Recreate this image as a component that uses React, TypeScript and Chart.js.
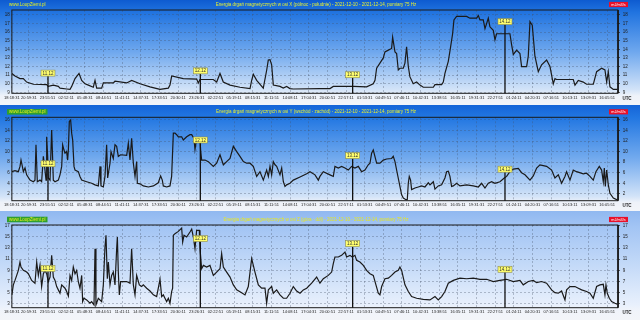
import { useEffect, useRef } from "react";
import { Chart, registerables } from "chart.js";
Chart.register(...registerables);

// time axis: hours since 2021-12-10 18:18:31 UTC
const START = "18:18:31";
const X_MAX_HOURS = 95.45;
const tickLabels = [
  "18:18:31", "20:59:31", "23:55:51", "02:52:11", "05:48:31", "08:44:51", "11:41:11", "14:37:31",
  "17:33:51", "20:30:11", "23:26:31", "02:22:51", "05:19:11", "08:15:31", "11:11:51", "14:08:11",
  "17:04:31", "20:00:51", "22:57:11", "01:53:31", "04:49:51", "07:46:11", "10:42:31", "13:38:51",
  "16:35:11", "19:31:31", "22:27:51", "01:24:11", "04:20:31", "07:16:51", "10:13:11", "13:09:31",
  "16:05:51",
];
const dayLabels = ["11.12", "12.12", "13.12", "14.12"];

const titles = [
  "Energia drgań magnetycznych w osi X (północ - południe) - 2021-12-10 - 2021-12-14, pomiary 75 Hz",
  "Energia drgań magnetycznych w osi Y (wschód - zachód) - 2021-12-10 - 2021-12-14, pomiary 75 Hz",
  "Energia drgań magnetycznych w osi Z (góra - dół) - 2021-12-10 - 2021-12-14, pomiary 75 Hz",
];
const siteLabel = "www.LoopZiemi.pl";
const unitLabel = "mJ/m3/s";

// [hours since start, value]
const northSouth: [number, number][] = [
  [0, 11.2], [0.49, 10.9], [1.28, 10.6], [1.8, 10.6], [2.33, 10.2], [3.38, 9.95], [5.48, 9.9], [5.74, 9.7],
  [6.53, 9.85], [7.32, 9.7], [7.58, 9.5], [8.63, 9.4], [9.16, 9.35], [9.42, 9.7], [9.95, 10.6], [10.58, 11.2],
  [11.0, 10.4], [11.52, 10.0], [12.05, 9.85], [12.83, 9.6], [13.1, 10.4], [13.36, 9.5], [14.15, 9.5], [14.41, 10.1],
  [15.98, 10.1], [16.25, 10.3], [18.09, 10.1], [18.88, 10.4], [20.19, 10.0], [21.76, 9.65], [23.34, 9.35], [24.65, 9.5],
  [24.91, 9.85], [25.18, 10.9], [27.0, 10.6], [29.12, 10.55], [29.37, 10.1], [29.64, 10.5], [31.73, 10.5], [32.27, 10.2],
  [32.79, 11.2], [33.31, 10.2], [34.37, 9.85], [35.94, 9.6], [37.52, 9.45], [37.78, 10.4], [38.04, 11.1], [38.57, 10.4],
  [39.61, 9.5], [40.15, 11.6], [40.4, 12.75], [40.67, 12.8], [40.93, 12.2], [41.19, 9.85], [42.24, 9.7], [42.76, 9.5],
  [43.29, 9.7], [43.81, 9.45], [44.34, 9.4], [48.54, 9.45], [50.12, 9.45], [50.64, 9.7], [53.79, 9.7], [55.89, 9.65],
  [56.94, 10.0], [57.21, 10.4], [57.47, 11.8], [57.99, 12.4], [58.52, 13.0], [58.78, 13.7], [59.31, 13.9], [59.83, 14.1],
  [59.99, 15.4], [60.36, 13.7], [60.62, 13.5], [60.88, 11.6], [61.14, 11.8], [61.67, 11.8], [61.93, 12.4], [62.19, 14.3],
  [62.46, 12.0], [62.72, 10.8], [63.24, 10.0], [63.77, 10.2], [64.3, 9.85], [64.82, 9.6], [66.4, 9.6], [66.66, 9.9],
  [67.71, 9.9], [67.97, 10.2], [68.23, 11.2], [68.76, 12.6], [69.13, 14.3], [69.44, 15.8], [69.65, 17.4], [70.07, 17.8],
  [71.65, 17.8], [72.17, 17.6], [73.22, 17.6], [73.49, 17.9], [73.75, 17.4], [74.27, 17.4], [74.54, 16.4], [75.06, 17.6],
  [75.32, 16.6], [75.85, 16.2], [76.11, 15.1], [76.37, 15.8], [78.47, 15.8], [78.74, 14.5], [79.0, 13.4], [79.53, 13.9],
  [80.05, 13.5], [80.31, 12.0], [81.1, 12.0], [81.36, 13.2], [81.63, 17.2], [81.99, 16.8], [82.41, 13.2], [82.94, 11.4],
  [83.46, 12.2], [84.25, 12.75], [84.78, 12.0], [85.3, 10.0], [85.57, 10.6], [85.83, 10.5], [88.45, 10.5], [88.72, 9.85],
  [89.24, 10.4], [90.03, 10.2], [90.55, 9.95], [91.61, 9.95], [92.13, 11.4], [92.92, 11.8], [93.44, 11.6], [93.71, 10.2],
  [93.97, 11.4], [94.23, 9.65], [94.76, 9.35], [95.45, 9.35],
];

const eastWest: [number, number][] = [
  [0, 6.2], [0.49, 6.4], [1.02, 6.2], [1.28, 7.2], [1.44, 8.4], [1.65, 7.2], [1.81, 6.2], [2.07, 6.9], [2.33, 5.6],
  [2.86, 4.6], [3.38, 4.3], [3.64, 4.6], [3.8, 11.3], [4.01, 4.3], [4.43, 4.6], [4.69, 4.3], [4.96, 9.1], [5.22, 6.5],
  [5.38, 4.6], [5.48, 12.8], [5.64, 9.1], [5.74, 5.0], [6.01, 4.6], [6.27, 14.1], [6.43, 8.4], [6.53, 4.6], [6.8, 4.3],
  [7.32, 4.6], [7.58, 5.6], [7.85, 7.2], [8.0, 11.3], [8.21, 10.3], [8.37, 9.7], [8.63, 10.0], [8.79, 8.4], [8.9, 10.3],
  [9.05, 15.7], [9.26, 16.0], [9.42, 13.5], [9.58, 12.2], [9.79, 7.2], [9.95, 6.5], [10.47, 6.2], [10.73, 5.3], [11.0, 4.6],
  [11.78, 4.3], [12.57, 4.0], [13.1, 3.7], [13.62, 3.5], [13.89, 7.2], [14.04, 3.5], [14.41, 3.3], [14.67, 5.3], [14.93, 11.3],
  [15.09, 5.0], [15.46, 7.8], [15.62, 10.0], [15.98, 8.7], [16.25, 11.3], [16.51, 11.0], [16.77, 9.1], [17.14, 9.4], [18.09, 9.3],
  [18.35, 11.6], [18.61, 8.4], [18.87, 12.5], [19.14, 7.8], [19.4, 5.3], [19.66, 8.1], [19.77, 4.0], [20.19, 3.9], [20.71, 3.5],
  [21.5, 3.3], [22.29, 3.5], [23.07, 4.1], [23.44, 5.4], [23.7, 4.6], [23.86, 3.5], [24.39, 3.3], [24.91, 3.5], [25.17, 5.3],
  [25.44, 13.5], [25.7, 13.5], [25.96, 13.2], [26.23, 12.8], [26.75, 12.8], [27.01, 12.2], [27.54, 12.8], [28.06, 13.2], [28.33, 13.2],
  [28.69, 12.5], [28.85, 10.4], [29.11, 12.5], [29.64, 12.5], [29.74, 10.3], [29.9, 8.4], [30.43, 8.4], [30.95, 8.1], [31.74, 7.2],
  [32.26, 7.8], [32.79, 9.4], [33.32, 7.5], [33.84, 8.1], [34.37, 8.7], [34.89, 11.0], [35.42, 10.0], [35.94, 9.1], [36.47, 8.1],
  [36.99, 7.8], [37.52, 7.8], [38.04, 7.2], [38.57, 5.3], [39.09, 6.2], [39.62, 4.6], [40.14, 6.5], [40.41, 5.3], [40.67, 7.2],
  [40.93, 5.6], [41.19, 8.1], [41.46, 7.5], [41.72, 7.2], [42.24, 5.6], [42.51, 6.9], [42.77, 4.3], [43.03, 3.4], [43.29, 3.7],
  [43.82, 4.0], [44.34, 4.6], [45.4, 5.2], [46.45, 5.8], [46.97, 6.2], [47.76, 5.6], [48.28, 4.6], [48.54, 5.3],
  [49.07, 6.2], [50.12, 5.6], [50.64, 5.3], [50.9, 7.2], [51.43, 6.9], [51.95, 7.2], [52.48, 6.9], [53.0, 6.5], [53.53, 7.2],
  [54.05, 6.9], [54.58, 7.2], [55.1, 6.2], [55.63, 6.5], [56.15, 7.5], [56.42, 7.8], [56.68, 9.7], [56.94, 10.3], [57.2, 9.1],
  [57.47, 7.8], [57.99, 7.8], [58.52, 8.4], [59.04, 8.6], [59.83, 8.7], [60.09, 9.1], [60.36, 8.1], [60.72, 5.9], [61.14, 3.4],
  [61.41, 1.8], [61.67, 1.2], [62.09, 0.9], [62.3, 0.9], [62.46, 4.0], [62.61, 5.3], [62.82, 4.6], [62.98, 2.8], [63.51, 3.1],
  [64.03, 3.3], [64.56, 3.5], [65.08, 3.3], [65.61, 4.1], [65.87, 3.7], [66.4, 4.3], [66.66, 2.9], [67.18, 3.5], [67.71, 3.7],
  [68.23, 5.0], [68.5, 6.2], [68.76, 6.3], [69.02, 5.3], [69.28, 3.4], [69.55, 3.5], [70.07, 4.0], [70.6, 3.5], [71.65, 3.7],
  [72.7, 3.5], [73.49, 3.3], [74.01, 4.0], [74.54, 3.1], [75.06, 4.0], [75.59, 4.3], [76.11, 4.0], [76.9, 4.3], [77.58, 5.0],
  [77.95, 5.3], [78.47, 6.2], [79.0, 6.7], [79.79, 6.8], [80.31, 6.0], [80.84, 5.6], [81.63, 4.6], [82.15, 5.4], [82.68, 6.9],
  [83.2, 7.5], [84.25, 7.2], [85.04, 6.5], [85.56, 5.0], [86.09, 5.6], [86.61, 4.0], [87.14, 5.3], [87.4, 6.2], [87.93, 4.6],
  [88.45, 6.5], [88.98, 6.2], [90.03, 5.8], [90.55, 5.9], [91.08, 5.3], [91.6, 4.6], [92.02, 6.2], [92.55, 7.2], [92.92, 6.5],
  [93.18, 4.3], [93.34, 6.9], [93.5, 3.4], [93.71, 6.5], [93.97, 3.7], [94.23, 2.1], [94.76, 1.2], [95.28, 0.9], [95.45, 0.9],
];

const upDown: [number, number][] = [
  [0, 4.6], [0.23, 6.4], [0.49, 7.2], [0.76, 8.1], [1.02, 9.0], [1.28, 10.5], [1.44, 9.6], [1.81, 9.0], [2.33, 8.7],
  [2.59, 8.4], [3.12, 7.2], [3.64, 6.7], [3.91, 10.5], [4.17, 8.1], [4.43, 9.9], [4.69, 6.1], [4.96, 8.4], [5.22, 9.0],
  [5.48, 8.4], [5.74, 7.0], [6.01, 7.8], [6.27, 11.7], [6.53, 7.8], [6.8, 7.2], [7.06, 6.1], [7.32, 5.5], [7.58, 4.9],
  [7.85, 6.4], [8.37, 5.8], [8.63, 5.2], [8.9, 4.4], [9.16, 8.1], [9.42, 7.2], [9.68, 9.6], [9.95, 8.4], [10.21, 9.0],
  [10.47, 7.0], [10.73, 5.8], [11.0, 8.1], [11.15, 3.4], [11.36, 4.0], [11.78, 3.7], [12.31, 3.1], [12.57, 3.4], [12.94, 2.8],
  [13.1, 12.9], [13.25, 2.8], [13.62, 4.0], [14.15, 3.4], [14.41, 6.4], [14.67, 13.2], [14.83, 15.3], [15.04, 7.5], [15.2, 10.5],
  [15.46, 6.4], [15.72, 8.1], [15.98, 8.7], [16.25, 6.4], [16.51, 12.9], [16.62, 15.0], [16.77, 8.7], [16.93, 4.6], [17.14, 7.0],
  [18.09, 7.0], [18.61, 6.7], [18.87, 12.9], [19.14, 6.4], [19.4, 4.6], [19.66, 8.1], [20.08, 6.4], [20.45, 6.1], [20.71, 6.4],
  [21.24, 5.8], [21.76, 5.3], [22.29, 4.6], [22.81, 4.3], [23.34, 7.4], [23.6, 4.3], [23.86, 4.6], [24.12, 4.0], [24.39, 3.4],
  [24.65, 4.0], [24.91, 3.1], [25.17, 5.2], [25.33, 5.8], [25.44, 15.3], [25.7, 15.6], [26.23, 16.0], [26.75, 16.6], [26.91, 14.1],
  [27.12, 15.3], [27.54, 15.0], [28.06, 15.9], [28.33, 16.4], [28.59, 15.0], [28.85, 12.9], [29.11, 16.2], [29.53, 16.2], [29.64, 12.9],
  [29.9, 9.3], [30.17, 9.9], [30.69, 9.6], [31.21, 9.9], [31.74, 8.1], [32.26, 8.7], [32.79, 9.3], [33.05, 12.0], [33.32, 9.6],
  [33.84, 8.7], [34.37, 7.8], [34.89, 6.4], [35.42, 5.5], [36.2, 5.0], [36.73, 4.6], [37.25, 6.1], [37.78, 11.1], [38.3, 8.7],
  [38.83, 6.4], [39.35, 5.8], [39.88, 5.8], [40.14, 3.1], [40.41, 5.5], [40.93, 6.1], [41.19, 4.9], [41.72, 5.5], [42.24, 4.6],
  [42.77, 4.0], [43.29, 4.0], [43.82, 4.9], [44.34, 6.1], [44.87, 5.3], [45.4, 4.9], [45.92, 5.5], [46.45, 5.8], [47.23, 6.7],
  [48.02, 7.8], [48.54, 6.7], [49.07, 7.5], [49.85, 8.1], [50.38, 8.7], [50.64, 10.2], [50.9, 11.4], [51.43, 11.4], [51.95, 11.7],
  [52.48, 12.3], [52.74, 11.4], [53.27, 11.7], [53.63, 11.4], [54.05, 11.7], [54.32, 10.8], [54.84, 10.5], [55.37, 9.9], [55.89, 9.0],
  [56.42, 8.4], [56.94, 8.1], [57.36, 6.4], [57.73, 4.9], [57.99, 4.6], [58.26, 6.1], [58.78, 7.5], [59.31, 7.6], [59.83, 8.1],
  [60.36, 8.7], [60.88, 9.0], [61.14, 9.6], [61.41, 9.0], [61.93, 6.4], [62.46, 5.2], [62.98, 4.3], [63.77, 4.0], [64.82, 3.8],
  [65.87, 3.7], [66.66, 4.3], [67.18, 3.7], [67.71, 4.3], [68.23, 5.2], [68.76, 6.7], [69.55, 7.2], [70.6, 7.6], [71.65, 7.5],
  [72.7, 7.6], [73.75, 7.4], [74.8, 7.4], [75.85, 7.0], [76.9, 7.2], [77.95, 7.4], [79.0, 7.0], [80.05, 7.2], [80.57, 6.4],
  [81.36, 7.0], [82.15, 7.2], [82.68, 6.8], [83.46, 7.0], [84.25, 6.7], [85.04, 5.5], [85.56, 5.0], [86.09, 4.9], [86.61, 5.3],
  [87.14, 3.7], [87.4, 5.5], [87.93, 6.1], [88.72, 6.1], [89.24, 5.8], [89.77, 5.5], [90.55, 5.2], [91.08, 4.9], [91.6, 4.0],
  [92.13, 6.1], [92.65, 6.4], [93.18, 6.5], [93.44, 4.6], [93.6, 6.4], [93.81, 4.9], [94.13, 4.0], [94.49, 3.4], [95.02, 3.1],
  [95.45, 2.9],
];

// value height of the date label boxes in each panel
const markerNorthSouth = [11.24, 11.5, 11.05, 17.2];
const markerEastWest = [7.7, 12.2, 9.25, 6.67];
const markerUpDown = [9.35, 14.7, 13.8, 9.2];

const ticksNorthSouth = [9, 10, 11, 12, 13, 14, 15, 16, 17, 18];
const ticksEastWest = [2, 4, 6, 8, 10, 12, 14, 16];
const ticksUpDown = [3, 4, 5, 6, 7, 8, 9, 10, 11, 12, 13, 14, 15, 16, 17];

function toSec(s: string) {
  const [h, m, x] = s.split(":").map(Number);
  return h * 3600 + m * 60 + x;
}
const tickHours = (() => {
  let day = 0;
  let prev = -1;
  return tickLabels.map((l) => {
    const t = toSec(l);
    if (t < prev) day++;
    prev = t;
    return (day * 86400 + t - toSec(START)) / 3600;
  });
})();
const dayHours = dayLabels.map((_, i) => (86400 - toSec(START)) / 3600 + i * 24);

type PanelProps = {
  top: number;
  height: number;
  plotTop: number;
  plotBottom: number;
  data: [number, number][];
  yMin: number;
  yMax: number;
  yTicks: number[];
  markers: number[];
  title: string;
  background: string;
  siteBox: boolean;
  titleColor: string;
};

const FONT = "'Liberation Sans', Arial, sans-serif";

function Panel(p: PanelProps) {
  const ref = useRef<HTMLCanvasElement>(null);
  useEffect(() => {
    const canvas = ref.current!;
    const decor = {
      id: "decor",
      afterDraw(chart: any) {
        const ctx = chart.ctx;
        const a = chart.chartArea;
        const xs = chart.scales.x;
        const ys = chart.scales.y;
        ctx.save();
        // frame
        ctx.strokeStyle = "#1a1a1a";
        ctx.lineWidth = 1;
        ctx.strokeRect(a.left, a.top, a.right - a.left, a.bottom - a.top);
        ctx.lineWidth = 1.5;
        ctx.beginPath();
        ctx.moveTo(a.right + 0.5, a.top);
        ctx.lineTo(a.right + 0.5, a.bottom);
        ctx.stroke();
        // day markers
        dayLabels.forEach((lab, i) => {
          const x = xs.getPixelForValue(dayHours[i]);
          const y = ys.getPixelForValue(p.markers[i]);
          ctx.strokeStyle = "#111";
          ctx.lineWidth = 1.3;
          ctx.beginPath();
          ctx.moveTo(x, y + 3);
          ctx.lineTo(x, a.bottom);
          ctx.stroke();
          ctx.fillStyle = "#ffff6e";
          ctx.fillRect(x - 7, y - 3, 14, 6);
          ctx.strokeStyle = "#8a8a50";
          ctx.lineWidth = 0.6;
          ctx.strokeRect(x - 7, y - 3, 14, 6);
          ctx.fillStyle = "#333";
          ctx.font = `4.5px ${FONT}`;
          ctx.textAlign = "center";
          ctx.textBaseline = "middle";
          ctx.fillText(lab, x, y + 0.3);
        });
        // header
        const hy = a.top - 5.5;
        ctx.font = `4.5px ${FONT}`;
        ctx.textBaseline = "middle";
        ctx.textAlign = "left";
        if (p.siteBox) {
          const w = ctx.measureText(siteLabel).width;
          ctx.fillStyle = "#2f9e2f";
          ctx.fillRect(7, hy - 2.8, w + 4, 5.6);
        }
        ctx.fillStyle = "#e6f020";
        ctx.fillText(siteLabel, 9, hy);
        ctx.fillStyle = p.titleColor;
        ctx.textAlign = "center";
        ctx.fillText(p.title, 316, hy);
        ctx.fillStyle = "#e8102a";
        ctx.fillRect(609, hy - 2.6, 19, 5.2);
        ctx.fillStyle = "#ffffff";
        ctx.font = `3.8px ${FONT}`;
        ctx.fillText(unitLabel, 618.5, hy);
        // UTC
        ctx.fillStyle = "#222";
        ctx.font = `bold 4.5px ${FONT}`;
        ctx.fillText("UTC", 627, a.bottom + 5.5);
        ctx.restore();
      },
    };
    const gridCommon = {
      color: "rgba(70,80,100,0.55)",
      lineWidth: 0.6,
      drawTicks: false,
    };
    const chart = new Chart(canvas, {
      type: "line",
      data: {
        datasets: [
          {
            data: p.data.map(([x, y]) => ({ x, y })),
            borderColor: "#1a1a1a",
            borderWidth: 1.2,
            pointRadius: 0,
            tension: 0,
            yAxisID: "y",
          },
        ],
      },
      options: {
        animation: false,
        responsive: false,
        devicePixelRatio: 1,
        layout: { padding: { top: p.plotTop, left: 0, right: 0, bottom: 0 } },
        plugins: { legend: { display: false }, tooltip: { enabled: false } },
        scales: {
          x: {
            type: "linear",
            min: 0,
            max: X_MAX_HOURS,
            afterBuildTicks: (s: any) => {
              s.ticks = tickHours.map((v) => ({ value: v }));
            },
            afterFit: (s: any) => {
              s.height = p.height - p.plotBottom;
            },
            ticks: {
              autoSkip: false,
              maxRotation: 0,
              padding: 2,
              color: "#222",
              font: { size: 4, family: FONT },
              callback: (_v: any, i: number) => tickLabels[i],
            },
            grid: { ...gridCommon },
            border: { display: false, dash: [2, 2] },
          },
          y: {
            type: "linear",
            position: "left",
            min: p.yMin,
            max: p.yMax,
            afterBuildTicks: (s: any) => {
              s.ticks = p.yTicks.map((v) => ({ value: v }));
            },
            afterFit: (s: any) => {
              s.width = 11.87;
            },
            ticks: { padding: 2, color: "#222", font: { size: 4.5, family: FONT } },
            grid: { ...gridCommon },
            border: { display: false, dash: [2, 2] },
          },
          y2: {
            type: "linear",
            position: "right",
            min: p.yMin,
            max: p.yMax,
            afterBuildTicks: (s: any) => {
              s.ticks = p.yTicks.map((v) => ({ value: v }));
            },
            afterFit: (s: any) => {
              s.width = 640 - 617.7;
            },
            ticks: { padding: 3, color: "#222", font: { size: 4.5, family: FONT } },
            grid: { drawOnChartArea: false, drawTicks: true, tickLength: 2, color: "#222" },
            border: { display: false },
          },
        },
      },
      plugins: [decor],
    } as any);
    return () => chart.destroy();
  }, []);
  return (
    <div
      style={{
        position: "absolute",
        left: 0,
        top: p.top,
        width: 640,
        height: p.height,
        background: p.background,
      }}
    >
      <canvas ref={ref} width={640} height={p.height} style={{ display: "block", width: 640, height: p.height }} />
    </div>
  );
}

export default function App() {
  return (
    <div style={{ position: "fixed", left: 0, top: 0, width: 640, height: 320, background: "#f3f5f9", overflow: "hidden" }}>
      <Panel
        top={0}
        height={104}
        plotTop={10}
        plotBottom={93.3}
        data={northSouth}
        yMin={8.9}
        yMax={18.55}
        yTicks={ticksNorthSouth}
        markers={markerNorthSouth}
        title={titles[0]}
        background="linear-gradient(to bottom, #0e5bd0 0%, #2174e0 12%, #6fa8ee 50%, #d2e3f8 86%, #eef2f9 92%, #f3f5f9 100%)"
        siteBox={false}
        titleColor="#e8f030"
      />
      <Panel
        top={105}
        height={106}
        plotTop={12.3}
        plotBottom={95.7}
        data={eastWest}
        yMin={0.7}
        yMax={16.5}
        yTicks={ticksEastWest}
        markers={markerEastWest}
        title={titles[1]}
        background="linear-gradient(to bottom, #1565d8 0%, #2277e2 12%, #72aaee 50%, #d2e3f8 86%, #eef2f9 92%, #f3f5f9 100%)"
        siteBox={true}
        titleColor="#e8f030"
      />
      <Panel
        top={211}
        height={109}
        plotTop={14}
        plotBottom={96.7}
        data={upDown}
        yMin={2.3}
        yMax={17.15}
        yTicks={ticksUpDown}
        markers={markerUpDown}
        title={titles[2]}
        background="linear-gradient(to bottom, #90b8f0 0%, #a2c4f4 14%, #c4daf8 50%, #e8f0fc 86%, #f1f4fa 92%, #f3f5f9 100%)"
        siteBox={true}
        titleColor="#e6e620"
      />
    </div>
  );
}
